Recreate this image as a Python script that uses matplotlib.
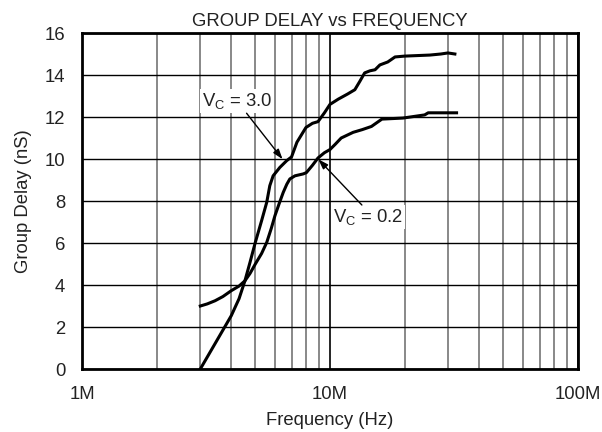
import matplotlib
matplotlib.use("Agg")
import matplotlib.pyplot as plt
from matplotlib.ticker import LogLocator, FixedLocator, NullFormatter

plt.rcParams['font.family'] = ['Liberation Sans', 'DejaVu Sans']

# Vc = 3.0 curve (frequency in MHz, delay in nS)
f_vc30 = [3.0, 3.5, 4.0, 4.3, 4.54, 4.76, 5.0, 5.3, 5.56, 5.72, 5.9, 6.28, 6.69,
          7.0, 7.36, 8.0, 8.5, 8.95, 9.5, 10.0, 10.8, 11.8, 12.6, 13.2, 13.8, 14.5,
          15.2, 15.9, 17.1, 18.3, 20.0, 25.3, 28.0, 29.9, 31.9]
d_vc30 = [0.0, 1.36, 2.54, 3.35, 4.2, 5.08, 6.03, 7.06, 7.94, 8.73, 9.2, 9.6, 9.92,
          10.1, 10.8, 11.5, 11.7, 11.78, 12.2, 12.6, 12.85, 13.1, 13.3, 13.7, 14.1, 14.2,
          14.25, 14.48, 14.62, 14.86, 14.9, 14.95, 15.0, 15.05, 15.0]

# Vc = 0.2 curve
f_vc02 = [3.0, 3.2, 3.44, 3.7, 4.0, 4.3, 4.54, 4.76, 5.0, 5.3, 5.56, 5.8, 6.0,
          6.25, 6.48, 6.7, 6.89, 7.23, 7.8, 8.03, 8.5, 8.95, 9.5, 10.0, 10.5, 11.1,
          12.4, 13.5, 14.7, 16.2, 19.7, 24.1, 24.9, 32.4]
d_vc02 = [3.0, 3.1, 3.25, 3.45, 3.73, 3.95, 4.2, 4.55, 5.0, 5.5, 6.03, 6.7, 7.3,
          7.9, 8.41, 8.8, 9.05, 9.2, 9.29, 9.35, 9.7, 10.05, 10.3, 10.45, 10.7, 11.0,
          11.27, 11.4, 11.55, 11.9, 11.95, 12.1, 12.2, 12.2]

x_ticks = [1, 10, 100]
x_ticklabels = ["1M", "10M", "100M"]
y_ticks = [0, 2, 4, 6, 8, 10, 12, 14, 16]

txt = "#222222"
fs = 13.3

fig = plt.figure(figsize=(6.02, 4.32), dpi=100)
ax = fig.add_axes([0.1362, 0.1458, 0.8238, 0.7778])

ax.set_xscale("log")
ax.set_xlim(1, 100)
ax.set_ylim(0, 16)

ax.xaxis.set_major_locator(FixedLocator(x_ticks))
ax.set_xticklabels(x_ticklabels)
ax.xaxis.set_minor_locator(LogLocator(base=10, subs=range(2, 10)))
ax.xaxis.set_minor_formatter(NullFormatter())
ax.set_yticks(y_ticks)

ax.grid(True, which="minor", axis="x", color="#7f7f7f", lw=1.3)
ax.grid(True, which="major", axis="x", color="black", lw=1.2)
ax.grid(True, which="major", axis="y", color="black", lw=1.0)
ax.set_axisbelow(True)

ax.tick_params(which="both", length=0, labelsize=fs, labelcolor=txt)
ax.tick_params(axis="x", pad=12.5)
ax.tick_params(axis="y", pad=12)

for s in ax.spines.values():
    s.set_linewidth(2.0)
    s.set_color("black")

ax.plot(f_vc30, d_vc30, color="black", lw=2.2, zorder=3)
ax.plot(f_vc02, d_vc02, color="black", lw=2.2, zorder=3)

box = dict(facecolor="white", edgecolor="none", pad=1.5)
ax.text(4.22, 12.76, r"$\mathregular{V_C}$ = 3.0", fontsize=fs, color=txt,
        ha="center", va="center", bbox=box, zorder=4)
ax.text(14.2, 7.24, r"$\mathregular{V_C}$ = 0.2", fontsize=fs, color=txt,
        ha="center", va="center", bbox=box, zorder=4)

arrow = dict(arrowstyle="-|>,head_length=0.6,head_width=0.2", color="black",
             lw=1.0, shrinkA=0, shrinkB=0)
ax.annotate("", xy=(6.44, 9.99), xytext=(4.61, 12.18), arrowprops=arrow, zorder=5)
ax.annotate("", xy=(8.97, 9.99), xytext=(13.45, 7.81), arrowprops=arrow, zorder=5)

ax.set_title("GROUP DELAY vs FREQUENCY", fontsize=fs, color=txt, pad=5)
ax.set_xlabel("Frequency (Hz)", fontsize=fs, color=txt, labelpad=6)
ax.set_ylabel("Group Delay (nS)", fontsize=fs, color=txt, labelpad=9)

fig.savefig("out.png", dpi=100)
